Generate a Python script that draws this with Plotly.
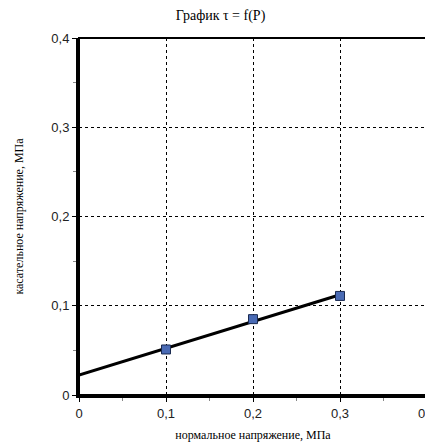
import numpy as np
import plotly.graph_objects as go

P = [0.1, 0.2, 0.3]
tau = [0.051, 0.085, 0.111]
x_ticks = [0, 0.1, 0.2, 0.3, 0.4]
y_ticks = [0, 0.1, 0.2, 0.3, 0.4]

k, b = np.polyfit(P, tau, 1)
line_x = np.array([0.0, max(P)])
line_y = k * line_x + b

fig = go.Figure()
fig.add_trace(go.Scatter(x=line_x, y=line_y, mode="lines",
                         line=dict(color="black", width=3), showlegend=False))
fig.add_trace(go.Scatter(x=P, y=tau, mode="markers",
                         marker=dict(symbol="square", size=9, color="#4a6bb5",
                                     line=dict(color="#1a2a50", width=1)),
                         showlegend=False))

axis_common = dict(range=[0, 0.4], showgrid=True,
                   gridcolor="black", griddash="dot", gridwidth=1,
                   showline=True, linecolor="black", linewidth=3,
                   mirror=False, ticks="outside", ticklen=4, tickcolor="black",
                   zeroline=False, automargin=False, ticklabeloverflow="allow",
                   minor=dict(ticks="outside", ticklen=3, tickcolor="#888",
                              showgrid=False, dtick=0.05),
                   tickfont=dict(family="Liberation Sans", size=13, color="#222"))

fig.update_xaxes(**axis_common, tickvals=x_ticks,
                 title=dict(text="нормальное напряжение, МПа",
                            font=dict(family="Liberation Serif", size=12, color="black"),
                            standoff=12))
fig.update_yaxes(**axis_common, tickvals=y_ticks,
                 title=dict(text="касательное напряжение, МПа",
                            font=dict(family="Liberation Serif", size=12, color="black"),
                            standoff=26))

fig.add_shape(type="rect", xref="paper", yref="paper", x0=0, y0=0, x1=1, y1=1,
              line=dict(color="black", width=2), layer="above")

fig.update_layout(
    width=425, height=437,
    margin=dict(l=71, r=6, t=30, b=50),
    paper_bgcolor="white", plot_bgcolor="white",
    separators=", ",
    title=dict(text="График τ = f(P)", x=0.5, xanchor="center", y=0.984, yanchor="middle",
               font=dict(family="Liberation Serif", size=14, color="black")),
)

fig.write_html("out.html")
